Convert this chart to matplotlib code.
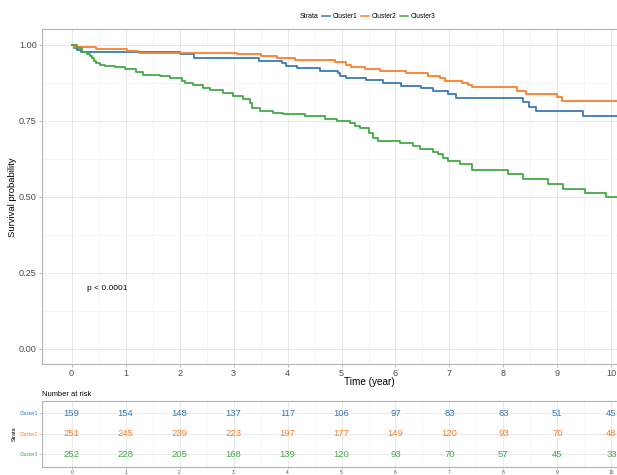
import matplotlib
matplotlib.use("Agg")
import matplotlib.pyplot as plt
from matplotlib.lines import Line2D
import numpy as np

plt.rcParams['font.family'] = ['Liberation Sans', 'DejaVu Sans']

strata = ["Cluster1", "Cluster2", "Cluster3"]
colors = ["#3A78B6", "#FA7F2A", "#44AA44"]

c1_t = [0, 0.04, 0.10, 0.17, 2.0, 2.26, 3.47, 3.89, 3.97, 4.17, 4.60, 4.93, 4.98, 5.09, 5.46, 5.77,
        6.11, 6.48, 6.70, 6.98, 7.13, 8.36, 8.48, 8.61, 9.48, 10.8]
c1_s = [1.0, 0.99, 0.982, 0.976, 0.968, 0.955, 0.946, 0.938, 0.93, 0.922, 0.913, 0.906, 0.898, 0.891,
        0.884, 0.873, 0.865, 0.857, 0.848, 0.838, 0.824, 0.811, 0.796, 0.783, 0.766, 0.766]

c2_t = [0, 0.05, 0.45, 1.02, 1.24, 3.06, 3.50, 3.80, 4.14, 4.88, 5.09, 5.18, 5.43, 5.71, 6.20, 6.60,
        6.82, 6.92, 7.23, 7.35, 7.41, 8.26, 8.42, 9.00, 9.08, 10.8]
c2_s = [1.0, 0.993, 0.986, 0.979, 0.973, 0.968, 0.963, 0.957, 0.948, 0.941, 0.933, 0.927, 0.921, 0.913,
        0.906, 0.898, 0.889, 0.881, 0.875, 0.867, 0.859, 0.848, 0.838, 0.827, 0.814, 0.814]

c3_t = [0, 0.10, 0.19, 0.28, 0.34, 0.37, 0.41, 0.45, 0.52, 0.62, 0.80, 0.99, 1.20, 1.33, 1.64, 1.82,
        2.04, 2.10, 2.25, 2.44, 2.56, 2.81, 2.99, 3.18, 3.30, 3.35, 3.49, 3.73, 3.92, 4.32, 4.69, 4.91,
        5.16, 5.25, 5.34, 5.50, 5.59, 5.68, 6.08, 6.33, 6.45, 6.70, 6.79, 6.88, 6.98, 7.20, 7.41, 8.09,
        8.36, 8.83, 9.11, 9.51, 9.91, 10.8]
c3_s = [1.0, 0.988, 0.976, 0.968, 0.962, 0.955, 0.946, 0.94, 0.933, 0.929, 0.925, 0.92, 0.911, 0.9,
        0.895, 0.889, 0.881, 0.875, 0.867, 0.857, 0.851, 0.842, 0.832, 0.82, 0.807, 0.79, 0.78, 0.776,
        0.771, 0.766, 0.756, 0.747, 0.742, 0.733, 0.725, 0.709, 0.693, 0.682, 0.677, 0.666, 0.655,
        0.647, 0.639, 0.628, 0.617, 0.606, 0.589, 0.573, 0.557, 0.54, 0.526, 0.513, 0.499, 0.499]

risk_times = list(range(0, 11))
risk_c1 = [159, 154, 148, 137, 117, 106, 97, 83, 63, 51, 45]
risk_c2 = [251, 245, 239, 223, 197, 177, 149, 120, 93, 70, 48]
risk_c3 = [252, 228, 205, 168, 139, 120, 93, 70, 57, 45, 33]

y_ticks = [0.0, 0.25, 0.50, 0.75, 1.00]
y_ticklabels = ["0.00", "0.25", "0.50", "0.75", "1.00"]
x_ticks = list(range(0, 11))

W, H = 617, 475
fig = plt.figure(figsize=(W / 100, H / 100), dpi=100)

def fx(px):
    return px / W

def fy(py):
    return 1 - py / H

border = "#B3B3B3"
grid_major = "#E8E8E8"
grid_minor = "#F2F2F2"
tick_col = "#B3B3B3"
txt_col = "#4D4D4D"

# main axes
ax = fig.add_axes([fx(42), fy(364), fx(695) - fx(42), fy(29.3) - fy(364)])
ax.set_xlim(-0.55, 11.55)
ax.set_ylim(-0.05, 1.05)
ax.set_xticks(x_ticks)
ax.set_xticklabels([str(v) for v in x_ticks])
ax.set_yticks(y_ticks)
ax.set_yticklabels(y_ticklabels)
ax.set_xticks(np.arange(-0.5, 12, 1.0), minor=True)
ax.set_yticks([0.125, 0.375, 0.625, 0.875], minor=True)
ax.grid(True, which='major', color=grid_major, linewidth=0.7)
ax.grid(True, which='minor', color=grid_minor, linewidth=0.45)
ax.tick_params(which='minor', length=0)
ax.tick_params(which='major', length=2.2, width=0.6, color=tick_col, labelsize=6.6,
               labelcolor=txt_col, pad=1.5)
for sp in ax.spines.values():
    sp.set_color(border)
    sp.set_linewidth(0.8)
ax.set_axisbelow(True)

for t, s, c in zip([c1_t, c2_t, c3_t], [c1_s, c2_s, c3_s], colors):
    ax.step(t, s, where='post', color=c, linewidth=1.3)

ax.text(0.29, 0.198, "p < 0.0001", fontsize=6.0, color="black", ha='left', va='center')

fig.text(fx(369), fy(382), "Time (year)", fontsize=7.2, ha='center', va='center', color='black')
fig.text(fx(13), fy(197), "Survival probability", fontsize=6.8, ha='center', va='center',
         rotation=90, color='black')

# legend
ly = fy(16)
fig.text(fx(319), ly, "Strata", fontsize=5.0, ha='right', va='center', color='black')
leg_x = [322, 361, 400]
for xl, name, c in zip(leg_x, strata, colors):
    fig.add_artist(Line2D([fx(xl), fx(xl + 8)], [ly, ly], color=c, linewidth=1.1,
                          transform=fig.transFigure))
    fig.text(fx(xl + 11), ly, name, fontsize=4.8, ha='left', va='center', color='black')

# risk table
rt = fig.add_axes([fx(42), fy(466.7), fx(695) - fx(42), fy(400.7) - fy(466.7)])
rt.set_xlim(-0.55, 11.55)
rt.set_ylim(0.4, 3.6)
rt.set_xticks(x_ticks)
rt.set_xticklabels([str(v) for v in x_ticks])
rt.set_xticks(np.arange(-0.5, 12, 1.0), minor=True)
rt.set_yticks([3, 2, 1])
rt.set_yticklabels(strata)
for lab, c in zip(rt.get_yticklabels(), colors):
    lab.set_color(c)
rt.grid(True, which='major', color=grid_major, linewidth=0.6)
rt.grid(True, which='minor', axis='x', color=grid_minor, linewidth=0.4)
rt.tick_params(which='minor', length=0)
rt.tick_params(axis='y', which='major', length=2.0, width=0.5, color=tick_col, labelsize=3.5, pad=1)
rt.tick_params(axis='x', which='major', length=1.5, width=0.5, color=tick_col, labelsize=3.5,
               labelcolor=txt_col, pad=1)
for sp in rt.spines.values():
    sp.set_color(border)
    sp.set_linewidth(0.8)
rt.set_axisbelow(True)

for row, vals, c in zip([3, 2, 1], [risk_c1, risk_c2, risk_c3], colors):
    for t, v in zip(risk_times, vals):
        rt.text(t, row, str(v), fontsize=6.8, color=c, ha='center', va='center')

fig.text(fx(41.7), fy(394), "Number at risk", fontsize=5.4, ha='left', va='center', color='black')
fig.text(fx(14), fy(433.5), "Strata", fontsize=4.0, ha='center', va='center', rotation=90,
         color='black')

fig.savefig("out.png", dpi=100)
